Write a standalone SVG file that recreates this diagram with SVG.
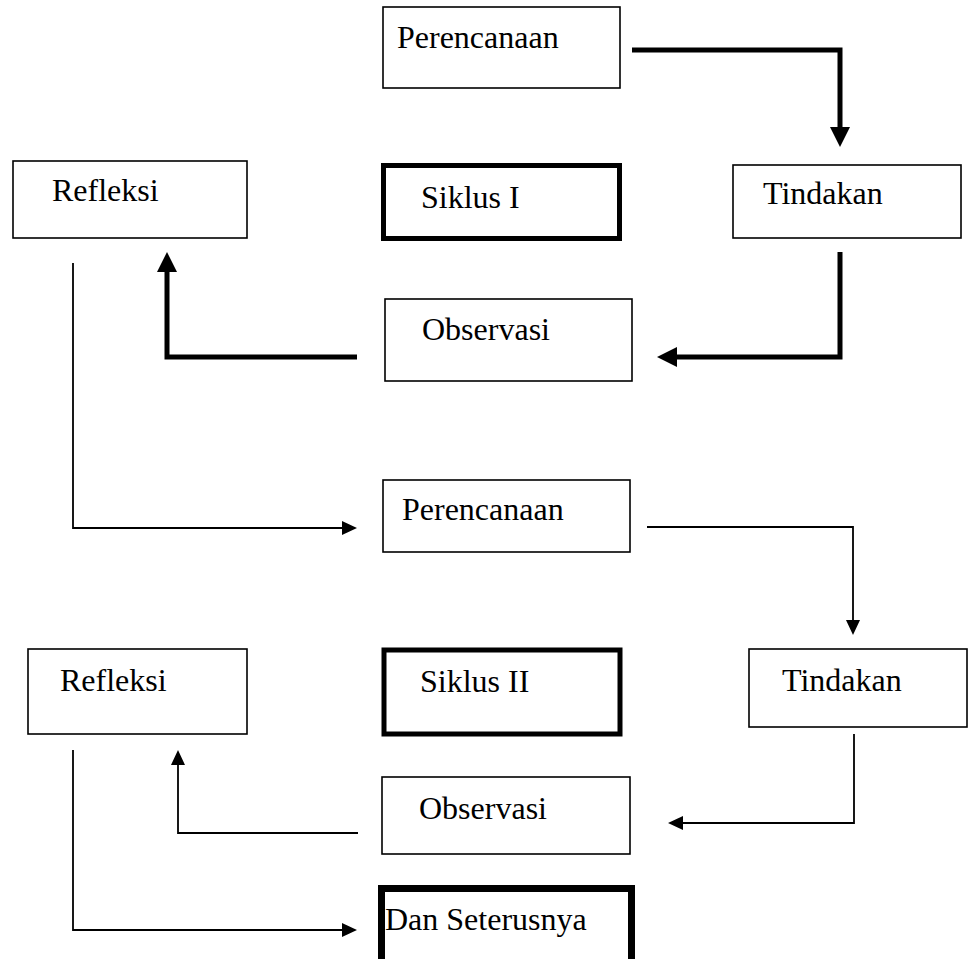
<svg xmlns="http://www.w3.org/2000/svg" width="971" height="959" viewBox="0 0 971 959">
<style>
.box{fill:#fff;stroke:#000;stroke-width:1.6}
.tbox{fill:#fff;stroke:#000;stroke-width:5}
.lbl{font-family:"Liberation Serif","Times New Roman",serif;font-size:32px;fill:#000}
.thick{fill:none;stroke:#000;stroke-width:5;stroke-linejoin:miter}
.thin{fill:none;stroke:#000;stroke-width:1.8;stroke-linejoin:miter}
</style>
<defs>
<marker id="ah" markerUnits="userSpaceOnUse" viewBox="0 0 20 20" markerWidth="20" markerHeight="20" refX="0" refY="10" orient="auto">
<path d="M0,0 L20,10 L0,20 z" fill="#000"/>
</marker>
<marker id="as" markerUnits="userSpaceOnUse" viewBox="0 0 15 14" markerWidth="15" markerHeight="14" refX="0" refY="7" orient="auto">
<path d="M0,0 L15,7 L0,14 z" fill="#000"/>
</marker>
</defs>
<rect width="971" height="959" fill="#fff"/>
<g id="connectors">
<path class="thick" d="M632,50 H840 V127" marker-end="url(#ah)"/>
<path class="thick" d="M840,252 V357 H677" marker-end="url(#ah)"/>
<path class="thick" d="M357,357 H167 V272" marker-end="url(#ah)"/>
<path class="thin" d="M73,263 V528 H342" marker-end="url(#as)"/>
<path class="thin" d="M647,527 H853 V620" marker-end="url(#as)"/>
<path class="thin" d="M854,734 V823 H683" marker-end="url(#as)"/>
<path class="thin" d="M358,833 H178 V765" marker-end="url(#as)"/>
<path class="thin" d="M73,750 V930 H342" marker-end="url(#as)"/>
</g>
<g id="perencanaan1"><rect class="box" x="383" y="7" width="237" height="81"/><text class="lbl" x="397" y="48">Perencanaan</text></g>
<g id="refleksi1"><rect class="box" x="13" y="161" width="234" height="77"/><text class="lbl" x="52" y="201">Refleksi</text></g>
<g id="siklus1"><rect class="tbox" x="383.5" y="165.5" width="236" height="73"/><text class="lbl" x="421" y="208">Siklus I</text></g>
<g id="tindakan1"><rect class="box" x="733" y="165" width="228" height="73"/><text class="lbl" x="763" y="204">Tindakan</text></g>
<g id="observasi1"><rect class="box" x="385" y="299" width="247" height="82"/><text class="lbl" x="422" y="340">Observasi</text></g>
<g id="perencanaan2"><rect class="box" x="383" y="480" width="247" height="72"/><text class="lbl" x="402" y="520">Perencanaan</text></g>
<g id="refleksi2"><rect class="box" x="28" y="649" width="219" height="85"/><text class="lbl" x="60" y="691">Refleksi</text></g>
<g id="siklus2"><rect class="tbox" x="384" y="650" width="236" height="84"/><text class="lbl" x="420" y="692">Siklus II</text></g>
<g id="tindakan2"><rect class="box" x="749" y="649" width="218" height="78"/><text class="lbl" x="782" y="691">Tindakan</text></g>
<g id="observasi2"><rect class="box" x="382" y="777" width="248" height="77"/><text class="lbl" x="419" y="819">Observasi</text></g>
<g id="dan"><rect class="box" x="381.5" y="888.5" width="250" height="80" style="stroke-width:7"/><text class="lbl" x="385" y="930">Dan Seterusnya</text></g>
</svg>
